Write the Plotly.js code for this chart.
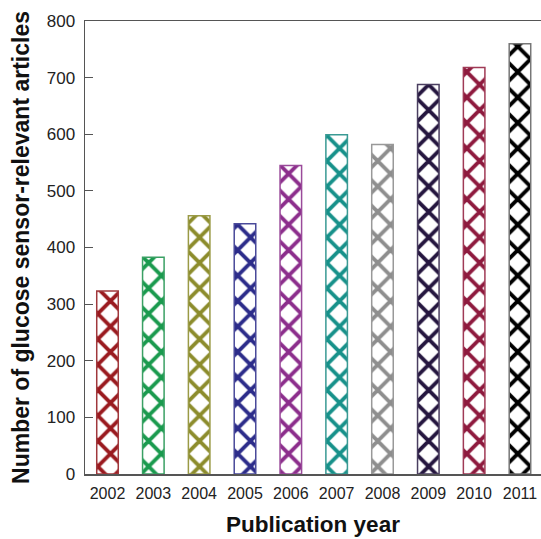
<!DOCTYPE html>
<html>
<head>
<meta charset="utf-8">
<script src="https://cdn.plot.ly/plotly-3.0.1.min.js"></script>
<style>html,body{margin:0;padding:0;background:#fff;}#chart{width:541px;height:539px;}</style>
</head>
<body>
<div id="chart"></div>
<script>
const years = ["2002","2003","2004","2005","2006","2007","2008","2009","2010","2011"];
const articles = [323, 383, 456, 442, 545, 599, 582, 688, 718, 760];
const barColors = ["#9a1a1f","#1a9a4e","#8c8c2c","#2c2c8a","#8c2e8c","#17918a","#8e8e8e","#25163f","#8e1a3e","#000000"];
const outlineColors = ["#a0383c","#3aa064","#9a9a46","#4a4a9a","#9a4a9a","#3a9a94","#999999","#4a3e60","#a03a56","#777777"];

const trace = {
  type: "bar",
  x: years,
  y: articles,
  width: 0.47,
  marker: {
    color: barColors,
    line: { color: outlineColors, width: 1.5 },
    pattern: { shape: "x", size: 18, solidity: 0.38, fillmode: "replace" }
  },
  hoverinfo: "x+y"
};

const layout = {
  width: 541,
  height: 539,
  margin: { l: 85, r: 0, t: 21, b: 65 },
  paper_bgcolor: "#ffffff",
  plot_bgcolor: "#ffffff",
  showlegend: false,
  font: { family: "Liberation Sans, Arial, sans-serif", color: "#222" },
  xaxis: {
    type: "category",
    range: [-0.491, 9.459],
    showgrid: false,
    zeroline: false,
    showline: true,
    linecolor: "#555",
    linewidth: 1.5,
    mirror: true,
    ticks: "outside",
    ticklen: 4,
    tickcolor: "rgba(0,0,0,0)",
    tickfont: { size: 16, color: "#222" },
    title: { text: "Publication year", font: { size: 22.5, color: "#111", weight: "bold" }, standoff: 15 }
  },
  yaxis: {
    range: [0, 800],
    dtick: 100,
    showgrid: false,
    zeroline: false,
    showline: true,
    linecolor: "#555",
    linewidth: 1.5,
    ticks: "inside",
    ticklen: 8,
    tickwidth: 1.2,
    tickcolor: "#555",
    ticklabelstandoff: 5,
    tickfont: { size: 17, color: "#222" },
    title: { text: "Number of glucose sensor-relevant articles", font: { size: 23, color: "#111", weight: "bold" }, standoff: 10 }
  }
};

Plotly.newPlot("chart", [trace], layout, { displayModeBar: false, staticPlot: true });
</script>
</body>
</html>
